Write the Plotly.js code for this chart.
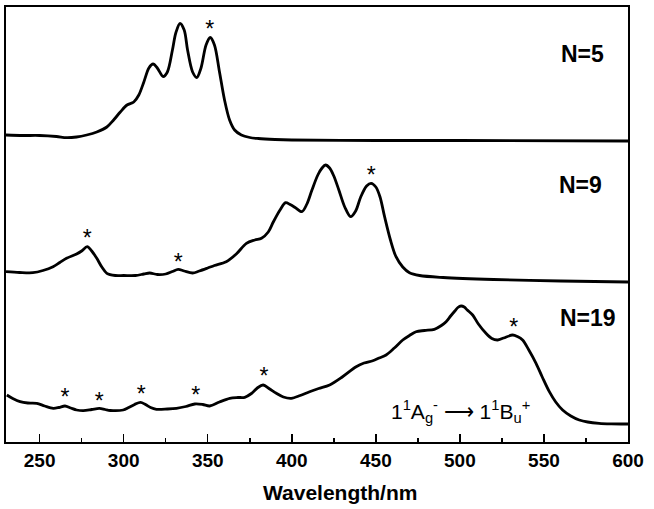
<!DOCTYPE html>
<html>
<head>
<meta charset="utf-8">
<script src="https://cdn.plot.ly/plotly-3.0.1.min.js"></script>
<style>html,body{margin:0;padding:0;background:#fff;}#chart{width:654px;height:509px;}</style>
</head>
<body>
<div id="chart"></div>
<script>
// Wavelength (nm) and absorbance (arbitrary units, stacked offsets)
const wlN5 = [230,240,250,260,266,272,278,284,290,294,298,302,306,309,312,315,317.5,320,323.5,326,329,331,333.5,336,338,341,343.5,346,349,351.5,354,357,360,363,366,370,375,380,390,400,450,500,600];
const absN5 = [307,306.5,306.5,305.5,304.3,305,307,310,315,322,330,337,340,347,360,374,378,374,365.5,370,392,409,418.5,412,392,370,364.5,374,397,404.5,397,370,342,322,312,307,304.5,303.5,302.5,302,301.5,301.5,301];

const wlN9 = [230,238,246,252,258,262,266,272,275,278.3,281,284,287,290,295,300,307,312,315.5,320,325,329,332.4,336,341,345,350,354,361,367,373,378,382,386,389,393,396.3,399,402,406,409,412,415.5,418,420.1,422.5,425,428,431.5,435,438,441,444.5,447.2,450,452.5,455.2,458.7,462,466,470,476,490,520,560,600];
const absN9 = [170.3,169.5,169.3,171.5,175.3,179.5,183.7,188,191,195.3,191,183.7,175,168.7,166.5,166.5,166.5,168,169,167.5,168,170.5,172.7,171,169,171,174,176.5,180.3,188,198.7,202,203.7,210,220,232,239.3,237.5,234.5,230.3,238,252,267,274,277,274,266,252,235,225.3,231,245,256,258.7,255,245,225.3,202,185.3,175,169.3,166.5,164.5,162.5,161,160];

const wlN19 = [230.5,234,238.4,243,248.3,253,258.1,261.5,265.1,268.5,272,276,281,285.5,289,292,299.7,303,306.5,310,313,316,319.5,326,331.4,337,342.3,347,351.2,357,363.1,368,372,376,379.5,382.9,386.9,390.8,395,399.7,405,410.6,416,422.5,430,438.3,443,448.2,452,456.1,461,466,470,473.9,479,484.8,489,491.8,494.5,497,498.8,500.7,502.6,504.4,507.6,511,515.5,519,522.4,526,531.4,534.2,537.3,541,545.3,549,553.2,557,561.1,566,571,576,582.8,590,598.7,600];
const absN19 = [47,43.5,40.3,39,38.7,36,33.7,34.5,36,34,32,31.3,32.5,33.7,32.5,31.5,32,34.5,37.5,39.7,37.5,34.5,32.7,33,33.7,35.5,38,37.5,36,40,43.7,44.5,44.7,48.5,54,57,53,48.7,45,43.7,46.5,50.3,53.5,57,65,75.3,79,81.3,84,87,94,102,106.5,110.3,111.5,112.7,116.5,120.3,126,131,134.5,136,135,132,127,118,108.7,103.5,102,104,107,105.5,102,92,78.7,65,50.3,40,32,26,22,20,18.7,18.2,18,18];

// Asterisk marks (wavelength, height)
const starWl = [351.2, 278.3, 332.4, 447.2, 265.1, 285.5, 310.5, 342.8, 383.5, 532];
const starAbs = [410.5, 201.5, 178.2, 264.8, 42.5, 39.2, 45.8, 44.8, 63.8, 113.2];

const seriesLabels = ['N=5', 'N=9', 'N=19'];
const labelWl = [573.1, 571.8, 576.3];
const labelAbs = [388.5, 257, 124.5];
const transitionText = '1<sup>1</sup>A<sub>g</sub><sup>-</sup> \u27F6 1<sup>1</sup>B<sub>u</sub><sup>+</sup>';
const transitionWl = 500.5, transitionAbs = 30.5;
const xTitle = 'Wavelength/nm';

const font = 'Liberation Sans, Arial, sans-serif';
const lineStyle = {color: '#000', width: 2.8, shape: 'spline', smoothing: 0.9};

const traces = [
  {x: wlN5, y: absN5, mode: 'lines', line: lineStyle, hoverinfo: 'skip'},
  {x: wlN9, y: absN9, mode: 'lines', line: lineStyle, hoverinfo: 'skip'},
  {x: wlN19, y: absN19, mode: 'lines', line: lineStyle, hoverinfo: 'skip'},
  {x: starWl, y: starAbs, mode: 'text', text: starWl.map(() => '*'), textposition: 'middle center',
   textfont: {family: font, size: 23, color: '#000'}, hoverinfo: 'skip'}
];

const annotations = seriesLabels.map((t, i) => ({
  x: labelWl[i], y: labelAbs[i], xref: 'x', yref: 'y', text: '<b>' + t + '</b>', showarrow: false,
  font: {family: font, size: 23, color: '#000'}, xanchor: 'center', yanchor: 'middle'
}));
annotations.push({x: transitionWl, y: transitionAbs, xref: 'x', yref: 'y', text: transitionText, showarrow: false,
  font: {family: font, size: 21, color: '#000'}, xanchor: 'center', yanchor: 'middle'});
// axis title, placed as in the reference (slightly right of centre)
annotations.push({x: 0.537, y: -0.115, xref: 'paper', yref: 'paper', text: '<b>' + xTitle + '</b>', showarrow: false,
  font: {family: font, size: 21, color: '#000'}, xanchor: 'center', yanchor: 'middle'});

const layout = {
  width: 654, height: 509,
  margin: {l: 6, r: 26, t: 7, b: 67},
  paper_bgcolor: '#fff', plot_bgcolor: '#fff',
  showlegend: false,
  xaxis: {
    range: [230, 600], dtick: 50, tick0: 0,
    showline: true, linecolor: '#000', linewidth: 2, mirror: true,
    ticks: 'inside', ticklen: 8, tickwidth: 1.5, tickcolor: '#000',
    minor: {dtick: 25, ticks: 'inside', ticklen: 4, tickwidth: 1.5, tickcolor: '#000'},
    showgrid: false, zeroline: false,
    tickfont: {family: font, size: 19, color: '#000', weight: 'bold'}
  },
  yaxis: {
    range: [0, 435], showline: true, linecolor: '#000', linewidth: 2, mirror: true,
    showticklabels: false, ticks: '', showgrid: false, zeroline: false
  },
  annotations: annotations
};

Plotly.newPlot('chart', traces, layout, {staticPlot: true, displayModeBar: false});
</script>
</body>
</html>
